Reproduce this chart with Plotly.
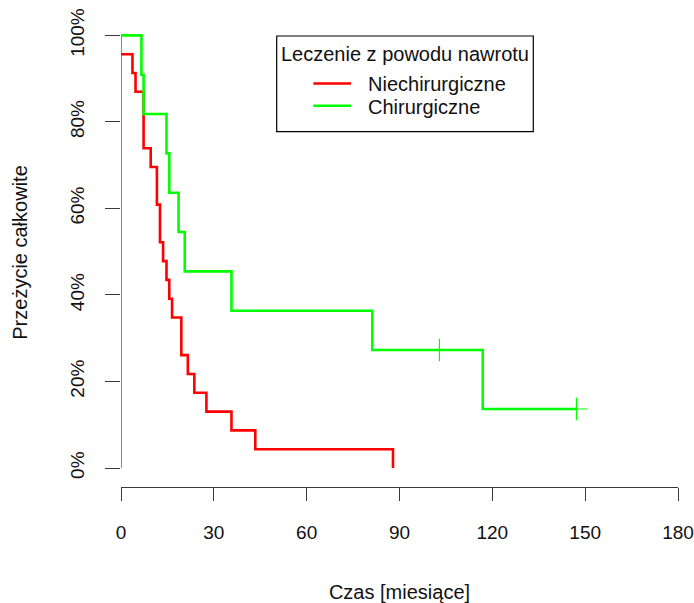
import plotly.graph_objects as go

# Kaplan-Meier step curves: time of each step (months) and survival after it (%)
red_name = "Niechirurgiczne"
red_time = [0, 3.7, 4.7, 7.3, 9.6, 11.6, 12.6, 13.6, 14.7, 15.6, 16.5,
            19.5, 21.6, 23.7, 27.6, 35.7, 43.4, 87.9]
red_surv = [95.65, 91.30, 86.96, 73.91, 69.57, 60.87, 52.17, 47.83, 43.48,
            39.13, 34.78, 26.09, 21.74, 17.39, 13.04, 8.70, 4.35, 0.0]

green_name = "Chirurgiczne"
green_time = [0, 6.6, 7.3, 14.7, 15.6, 18.6, 20.6, 35.7, 81.2, 116.9, 147.2]
green_surv = [100.0, 90.91, 81.82, 72.73, 63.64, 54.55, 45.45, 36.36,
              27.27, 13.64, 13.64]

# censored observations on the surgical curve
green_cens_time = [102.9, 147.2]
green_cens_surv = [27.27, 13.64]

x_ticks = [0, 30, 60, 90, 120, 150, 180]
y_ticks = [0, 20, 40, 60, 80, 100]
y_tick_text = ["0%", "20%", "40%", "60%", "80%", "100%"]

legend_title = "Leczenie z powodu nawrotu"
x_title = "Czas [miesiące]"
y_title = "Przeżycie całkowite"

RED = "#FF0000"
GREEN = "#00FF00"
AXIS = "#3a3a3a"
FONT = "Liberation Sans, Arial, sans-serif"
FS = 20
TICK_FS = 19

W, H = 694, 603
ML, MR, MT, MB = 121, 16, 18, 116
PW, PH = W - ML - MR, H - MT - MB


def px(x):
    return (x - ML) / PW


def py(y):
    return (H - MB - y) / PH


fig = go.Figure()
fig.add_trace(go.Scatter(x=red_time, y=red_surv, mode="lines",
                         line=dict(color=RED, width=2.6, shape="hv"),
                         showlegend=False, name=red_name))
fig.add_trace(go.Scatter(x=green_time, y=green_surv, mode="lines",
                         line=dict(color=GREEN, width=2.6, shape="hv"),
                         showlegend=False, name=green_name))
fig.add_trace(go.Scatter(x=green_cens_time, y=green_cens_surv, mode="markers",
                         marker=dict(symbol="cross-thin", size=16,
                                     line=dict(color=GREEN, width=1.2)),
                         showlegend=False, name=green_name))

# y axis line spans only the tick range
fig.add_shape(type="line", xref="x", yref="y", x0=0, x1=0, y0=0, y1=100,
              line=dict(color=AXIS, width=1.2), layer="below")

# legend box
lx0, lx1, ly0, ly1 = 276.7, 533.3, 36, 131.7
fig.add_shape(type="rect", xref="paper", yref="paper",
              x0=px(lx0), x1=px(lx1), y0=py(ly1), y1=py(ly0),
              line=dict(color="black", width=1.2), fillcolor="white")
fig.add_annotation(text=legend_title, xref="paper", yref="paper",
                   x=px((lx0 + lx1) / 2), y=py(54), xanchor="center",
                   yanchor="middle", showarrow=False,
                   font=dict(family=FONT, size=FS, color="#111"))
for name, col, yy in [(red_name, RED, 83.5), (green_name, GREEN, 105.7)]:
    fig.add_shape(type="line", xref="paper", yref="paper",
                  x0=px(313.3), x1=px(351), y0=py(yy), y1=py(yy),
                  line=dict(color=col, width=2.6))
    fig.add_annotation(text=name, xref="paper", yref="paper",
                       x=px(366), y=py(yy + 1), xanchor="left",
                       yanchor="middle", showarrow=False,
                       font=dict(family=FONT, size=FS, color="#111"))

fig.update_layout(
    width=W, height=H,
    margin=dict(l=ML, r=MR, t=MT, b=MB, autoexpand=False),
    paper_bgcolor="white", plot_bgcolor="white",
    font=dict(family=FONT, size=FS, color="#111"),
    xaxis=dict(range=[0, 180], tickvals=x_ticks, ticks="outside", ticklen=13,
               tickwidth=1.2, tickcolor=AXIS, showline=True, linecolor=AXIS,
               linewidth=1.2, showgrid=False, zeroline=False,
               automargin=False, tickfont=dict(size=TICK_FS),
               ticklabelstandoff=15, ticklabeloverflow="allow",
               title=dict(text=x_title, standoff=44,
                          font=dict(family=FONT, size=FS))),
    yaxis=dict(range=[-4.39, 104.02], tickvals=y_ticks, ticktext=y_tick_text,
               ticks="outside", ticklen=15, tickwidth=1.2, tickcolor=AXIS,
               showline=False, showgrid=False, zeroline=False,
               automargin=False, tickfont=dict(size=TICK_FS),
               tickangle=-90, ticklabelstandoff=13,
               title=dict(text=y_title, standoff=34,
                          font=dict(family=FONT, size=FS))),
)

fig.write_html("out.html")
